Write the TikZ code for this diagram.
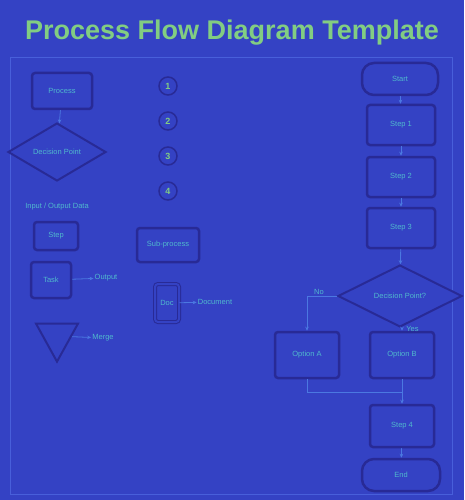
\documentclass[tikz,border=0pt]{standalone}
\usepackage{fontspec}
\setmainfont{Liberation Sans}
\usetikzlibrary{shapes.geometric,arrows.meta}
\definecolor{bg}{RGB}{52,66,196}
\definecolor{edge}{RGB}{40,42,150}
\definecolor{txt}{RGB}{80,185,205}
\definecolor{hot}{RGB}{130,205,130}
\definecolor{frame}{RGB}{72,95,218}
\definecolor{conn}{RGB}{75,120,225}
\begin{document}
\begin{tikzpicture}[x=1pt,y=-1pt,
  every node/.style={font=\fontsize{7.5}{9}\selectfont, text=txt, align=center, inner sep=1pt},
  box/.style={draw=edge, line width=2.5pt, rounded corners=3pt, fill=bg},
  term/.style={draw=edge, line width=2.5pt, rounded corners=12pt, fill=bg},
  dec/.style={draw=edge, line width=2pt, diamond, fill=bg, inner sep=0pt},
  circ/.style={draw=edge, line width=1.5pt, circle, minimum size=18pt, fill=bg, text=hot, font=\fontsize{9}{10}\selectfont\bfseries},
  tri/.style={draw=edge, line width=2pt, isosceles triangle, shape border rotate=270, isosceles triangle stretches, fill=bg, inner sep=0pt},
  lbl/.style={text=txt},
  flow/.style={draw=conn, line width=0.8pt, -{Stealth[length=4pt,width=3.5pt]}},
  line/.style={draw=conn, line width=0.8pt}
]
\fill[bg] (0,0) rectangle (464,500);
\useasboundingbox (0,0) rectangle (464,500);
\draw[frame, line width=1pt] (10,58) rectangle (452,494);

\node[font=\fontsize{27}{32}\selectfont\bfseries, text=hot] (title) at (232,33) {Process Flow Diagram Template};

% left column
\node[box, minimum width=60pt, minimum height=36pt] (a) at (62,91) {Process};
\node[dec, minimum width=98pt, minimum height=58pt] (b) at (57,152) {Decision Point};
\node[lbl] (c) at (57,207) {Input / Output Data};
\node[box, minimum width=44pt, minimum height=28pt] (d) at (56,236) {Step};
\node[box, minimum width=40pt, minimum height=36pt] (e) at (51,280) {Task};
\node[lbl] (el) at (106,278) {Output};
\node[tri, minimum width=42pt, minimum height=38pt] (f) at (57,336) {};
\node[lbl] (fl) at (103,338) {Merge};
\draw[flow] (a) -- (b);
\draw[flow] (e) -- (el);
\draw[flow] (f) -- (fl);

% middle column
\node[circ] (c1) at (168,86) {1};
\node[circ] (c2) at (168,121) {2};
\node[circ] (c3) at (168,156) {3};
\node[circ] (c4) at (168,191) {4};
\node[box, minimum width=62pt, minimum height=34pt] (g) at (168,245) {Sub-process};
\node[box, double=bg, double distance=2pt, line width=1pt, minimum width=24pt, minimum height=38pt] (h) at (167,303) {Doc};
\node[lbl] (hl) at (215,302) {Document};
\draw[flow] (h) -- (hl);

% right column
\node[term, minimum width=76pt, minimum height=32pt] (t1) at (400,79) {Start};
\node[box, minimum width=68pt, minimum height=40pt] (r1) at (401,125) {Step 1};
\node[box, minimum width=68pt, minimum height=40pt] (r2) at (401,177) {Step 2};
\node[box, minimum width=68pt, minimum height=40pt] (r3) at (401,228) {Step 3};
\node[dec, minimum width=124pt, minimum height=62pt] (d2) at (400,296) {Decision Point?};
\node[box, minimum width=64pt, minimum height=46pt] (l) at (307,355) {Option A};
\node[box, minimum width=64pt, minimum height=46pt] (m) at (402,355) {Option B};
\node[box, minimum width=64pt, minimum height=42pt] (r4) at (402,426) {Step 4};
\node[term, minimum width=78pt, minimum height=32pt] (t2) at (401,475) {End};
\coordinate (jn) at (402,392);

\draw[flow] (t1) -- (r1);
\draw[flow] (r1) -- (r2);
\draw[flow] (r2) -- (r3);
\draw[flow] (r3) -- (d2);
\draw[flow] (d2.west) -| node[pos=0.3, above] {No} (l.north);
\draw[flow] (d2.south -| m.north) -- node[right=3pt] {Yes} (m.north);
\draw[line] (l.south) |- (jn);
\draw[flow] (m) -- (r4);
\draw[flow] (r4) -- (t2);
\end{tikzpicture}
\end{document}
